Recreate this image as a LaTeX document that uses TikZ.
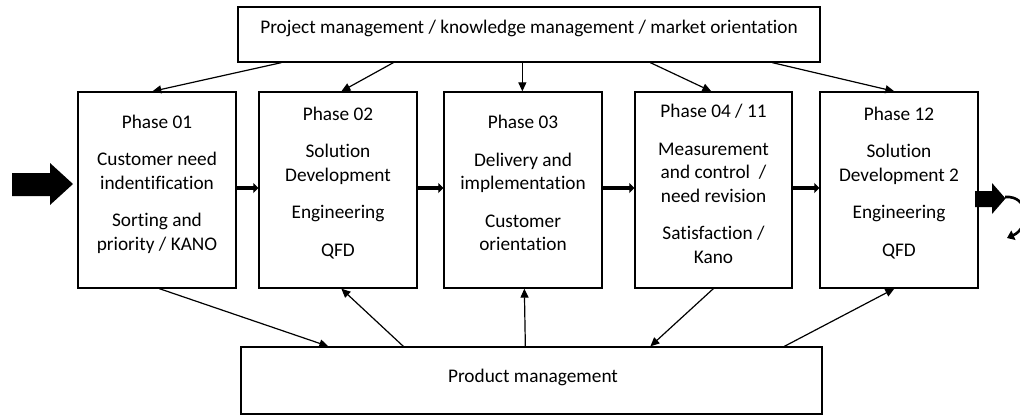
\documentclass[tikz,border=0pt]{standalone}
\usepackage{fontspec}
\setmainfont{Carlito}[Ligatures=NoCommon]
\usetikzlibrary{arrows.meta}
\begin{document}
\begin{tikzpicture}[x=1pt,y=-1pt,
  box/.style={draw,line width=1.3pt,inner sep=0pt,minimum height=196pt},
  phasebox/.style={box,minimum width=158pt},
  txt/.style={align=center,inner sep=0pt,font=\fontsize{19.3}{23.5}\selectfont},
  conn/.style={line width=1.2pt,-{Triangle[length=9pt,width=8pt]}},
  thick arrow/.style={line width=3.6pt,-{Triangle[length=5pt,width=10pt]}}]
\useasboundingbox (0,0) rectangle (1020,418);
\fill[white] (0,0) rectangle (1020,418);
% top and bottom boxes
\node[draw,line width=1.3pt,minimum width=582pt,minimum height=55pt,inner sep=0pt] (tb) at (529,34.5) {};
\node[txt] (tbl) at (529,28) {Project management / knowledge management / market orientation};
\node[draw,line width=1.3pt,minimum width=581pt,minimum height=67pt,inner sep=0pt] (bb) at (531.5,380.5) {};
\node[txt] (bbl) at (533,377) {Product management};
% phase boxes
\node[phasebox] (p1) at (157,190) {};
\node[phasebox] (p2) at (338,190) {};
\node[phasebox] (p3) at (523,190) {};
\node[phasebox,minimum width=157pt] (p4) at (713.5,190) {};
\node[phasebox] (p5) at (899,190) {};
% phase texts
\node[txt] (t1) at (157,184) {Phase 01\\[14pt]Customer need\\indentification\\[14pt]Sorting and\\priority / KANO};
\node[txt] (t2) at (338,183) {Phase 02\\[14pt]Solution\\Development\\[14pt]Engineering\\[14pt]QFD};
\node[txt] (t3) at (523,183) {Phase 03\\[14pt]Delivery and\\implementation\\[14pt]Customer\\orientation};
\node[txt] (t4) at (713.5,184) {Phase 04 / 11\\[14pt]Measurement\\and control~ /\\need revision\\[14pt]Satisfaction /\\Kano};
\node[txt] (t5) at (899,183) {Phase 12\\[14pt]Solution\\Development 2\\[14pt]Engineering\\[14pt]QFD};
% top connectors
\draw[conn] ([xshift=44pt]tb.south west) -- ([xshift=75pt]p1.north west);
\draw[conn] ([xshift=156pt]tb.south west) -- ([xshift=83pt]p2.north west);
\draw[conn] ([xshift=285pt]tb.south west) -- ([xshift=79pt]p3.north west);
\draw[conn] ([xshift=413pt]tb.south west) -- ([xshift=77pt]p4.north west);
\draw[conn] ([xshift=535pt]tb.south west) -- ([xshift=75pt]p5.north west);
% bottom connectors
\draw[conn] ([xshift=82pt]p1.south west) -- ([xshift=88pt]bb.north west);
\draw[conn] ([xshift=163pt]bb.north west) -- ([xshift=83pt]p2.south west);
\draw[conn] ([xshift=285pt]bb.north west) -- ([xshift=81pt]p3.south west);
\draw[conn] ([xshift=79pt]p4.south west) -- ([xshift=410pt]bb.north west);
\draw[conn] ([xshift=544pt]bb.north west) -- ([xshift=75pt]p5.south west);
% thick arrows between phases
\draw[thick arrow] ([yshift=2pt]p1.east) -- ([yshift=2pt]p2.west);
\draw[thick arrow] ([yshift=2pt]p2.east) -- ([yshift=2pt]p3.west);
\draw[thick arrow] ([yshift=2pt]p3.east) -- ([yshift=2pt]p4.west);
\draw[thick arrow] ([yshift=2pt]p4.east) -- ([yshift=2pt]p5.west);
% big input arrow
\fill (12,173) -- (50,173) -- (50,163) -- (73,184) -- (50,205) -- (50,196) -- (12,196) -- cycle;
% output arrow and return curve
\fill (975,191) -- (992,191) -- (992,183) -- (1005.5,198.5) -- (992,214) -- (992,207) -- (975,207) -- cycle;
\draw[line width=2.6pt,-{Triangle[length=7pt,width=10pt]}] (1005,197) .. controls (1030,195) and (1030,228) .. (1007,238);
\end{tikzpicture}
\end{document}
